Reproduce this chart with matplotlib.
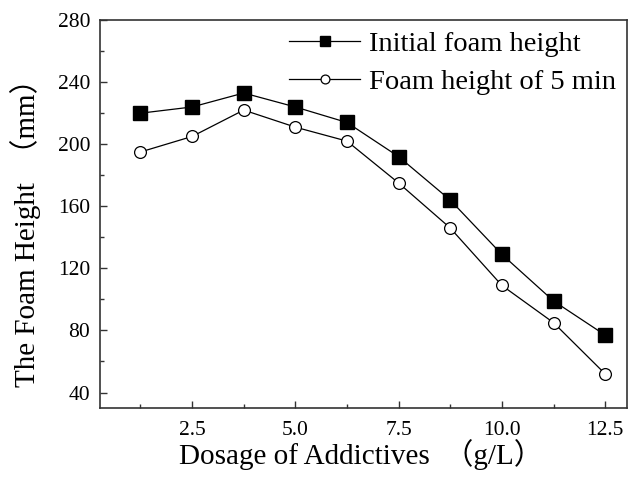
import matplotlib
matplotlib.use("Agg")
import matplotlib.pyplot as plt
from matplotlib.ticker import MultipleLocator

dosage = [1.25, 2.5, 3.75, 5.0, 6.25, 7.5, 8.75, 10.0, 11.25, 12.5]
initial_height = [220, 224, 233, 224, 214, 192, 164, 129, 99, 77]
height_5min = [195, 205, 222, 211, 202, 175, 146, 109, 85, 52]
x_ticks = [2.5, 5.0, 7.5, 10.0, 12.5]
y_ticks = [40, 80, 120, 160, 200, 240, 280]

fam = ['Liberation Serif', 'Noto Sans CJK SC']
plt.rcParams['font.family'] = fam

fig = plt.figure(figsize=(6.34, 4.78), dpi=100)
ax = fig.add_axes([0.1577, 0.1464, 0.8313, 0.8116])

ax.plot(dosage, initial_height, color='black', lw=0.9, marker='s', ms=9.5,
        mfc='black', mec='black', label='Initial foam height')
ax.plot(dosage, height_5min, color='black', lw=0.9, marker='o', ms=8.5,
        mfc='white', mec='black', mew=0.9, label='Foam height of 5 min')

ax.set_xlim(0.27, 13.03)
ax.set_ylim(30, 280)
ax.set_xticks(x_ticks)
ax.set_xticklabels([f"{v:.1f}" for v in x_ticks])
ax.set_yticks(y_ticks)
ax.xaxis.set_minor_locator(MultipleLocator(1.25))
ax.yaxis.set_minor_locator(MultipleLocator(20))
ax.tick_params(which='both', direction='in', labelsize=15.5, width=1.0, color='#333333')
ax.tick_params(which='major', length=5)
ax.tick_params(which='minor', length=3)
ax.tick_params(axis='x', pad=9)
ax.tick_params(axis='y', pad=7)
for s in ax.spines.values():
    s.set_linewidth(1.2)
    s.set_color('#333333')

ax.set_xlabel('Dosage of Addictives  （g/L）', fontsize=21, family=fam)
ax.set_ylabel('The Foam Height  （mm）', fontsize=21, family=fam)
ax.xaxis.set_label_coords(0.495, -0.08)
ax.yaxis.set_label_coords(-0.112, 0.47)

ax.legend(loc='upper right', bbox_to_anchor=(1.0, 1.0), frameon=False,
          fontsize=20.5, handlelength=2.5, handletextpad=0.3, labelspacing=0.4,
          borderaxespad=0.25, borderpad=0.15, markerscale=0.75)

fig.savefig('out.png', dpi=100)
